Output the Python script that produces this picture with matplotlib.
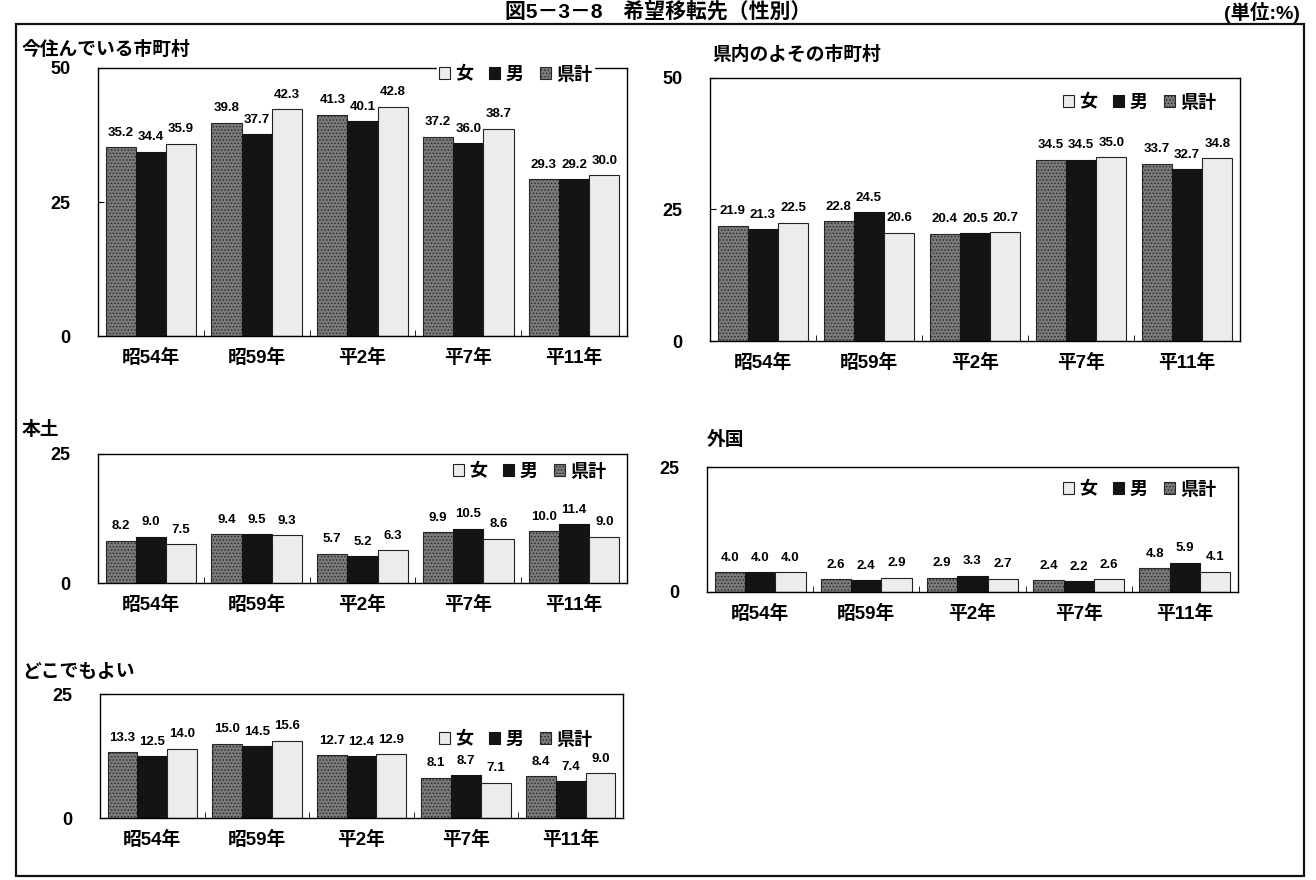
import numpy as np
import matplotlib.pyplot as plt
from matplotlib.patches import Patch, Rectangle

plt.rcParams['font.family'] = ['Liberation Sans', 'Noto Sans CJK JP', 'DejaVu Sans']
plt.rcParams['font.weight'] = 'bold'
plt.rcParams['hatch.linewidth'] = 0.6

W, H = 1316, 880

years = ['昭54年', '昭59年', '平2年', '平7年', '平11年']

# 今住んでいる市町村
ima_kenkei = [35.2, 39.8, 41.3, 37.2, 29.3]
ima_otoko = [34.4, 37.7, 40.1, 36.0, 29.2]
ima_onna = [35.9, 42.3, 42.8, 38.7, 30.0]

# 県内のよその市町村
yoso_kenkei = [21.9, 22.8, 20.4, 34.5, 33.7]
yoso_otoko = [21.3, 24.5, 20.5, 34.5, 32.7]
yoso_onna = [22.5, 20.6, 20.7, 35.0, 34.8]

# 本土
hondo_kenkei = [8.2, 9.4, 5.7, 9.9, 10.0]
hondo_otoko = [9.0, 9.5, 5.2, 10.5, 11.4]
hondo_onna = [7.5, 9.3, 6.3, 8.6, 9.0]

# 外国
gaikoku_kenkei = [4.0, 2.6, 2.9, 2.4, 4.8]
gaikoku_otoko = [4.0, 2.4, 3.3, 2.2, 5.9]
gaikoku_onna = [4.0, 2.9, 2.7, 2.6, 4.1]

# どこでもよい
doko_kenkei = [13.3, 15.0, 12.7, 8.1, 8.4]
doko_otoko = [12.5, 14.5, 12.4, 8.7, 7.4]
doko_onna = [14.0, 15.6, 12.9, 7.1, 9.0]

fig = plt.figure(figsize=(W / 100, H / 100), dpi=100)


def px_rect(x0, y0, x1, y1):
    return [x0 / W, 1 - y1 / H, (x1 - x0) / W, (y1 - y0) / H]


def fx(x):
    return x / W


def fy(y):
    return 1 - y / H


def panel(rect, title, title_xy, kenkei, otoko, onna, ymax, legend_xy):
    ax = fig.add_axes(px_rect(*rect))
    x = np.arange(len(years))
    w = 0.285
    b1 = ax.bar(x - w, kenkei, w, facecolor='#7a7a7a', edgecolor='#262626',
                hatch='.....', lw=0.8)
    b2 = ax.bar(x, otoko, w, facecolor='#141414', edgecolor='#141414', lw=0.8)
    b3 = ax.bar(x + w, onna, w, facecolor='#ececec', edgecolor='#222222', lw=0.8)
    for bars in (b1, b2, b3):
        for r in bars:
            ax.annotate('%.1f' % r.get_height(),
                        (r.get_x() + r.get_width() / 2, r.get_height()),
                        xytext=(0, 6), textcoords='offset points',
                        ha='center', va='bottom', fontsize=9.5,
                        fontweight='bold')
    ax.set_xlim(-0.5, 4.5)
    ax.set_ylim(0, ymax)
    ax.set_yticks(np.arange(0, ymax + 1, 25))
    ax.set_xticks(x)
    ax.set_xticklabels(years, fontsize=13.5, fontweight='bold')
    ax.set_xticks(x[:-1] + 0.5, minor=True)
    ax.tick_params(axis='x', which='major', length=0, pad=9)
    ax.tick_params(axis='x', which='minor', length=4, direction='in')
    ax.tick_params(axis='y', length=4, direction='in', pad=20, labelsize=13)
    for s in ax.spines.values():
        s.set_linewidth(1.0)
    fig.text(fx(title_xy[0]), fy(title_xy[1]), title, fontsize=13.5,
             fontweight='bold', va='center', ha='left')
    handles = [Patch(facecolor='#ececec', edgecolor='#222222', lw=0.8),
               Patch(facecolor='#141414', edgecolor='#141414', lw=0.8),
               Patch(facecolor='#7a7a7a', edgecolor='#262626', hatch='.....', lw=0.8)]
    ax.legend(handles, ['女', '男', '県計'], ncol=3, loc='center left',
              bbox_to_anchor=(fx(legend_xy[0]), fy(legend_xy[1])),
              bbox_transform=fig.transFigure, frameon=True,
              fancybox=False, edgecolor='white', framealpha=1,
              handlelength=0.6, handleheight=0.6, handletextpad=0.3,
              columnspacing=0.9, borderpad=0.1,
              prop={'size': 13, 'weight': 'bold'})
    return ax


panel((98, 68, 627, 336), '今住んでいる市町村', (22, 50),
      ima_kenkei, ima_otoko, ima_onna, 50, (428, 75))
panel((710, 78, 1240, 341), '県内のよその市町村', (712, 55),
      yoso_kenkei, yoso_otoko, yoso_onna, 50, (1052, 103))
panel((98, 454, 627, 583), '本土', (22, 430),
      hondo_kenkei, hondo_otoko, hondo_onna, 25, (442, 472))
panel((707, 467, 1238, 592), '外国', (707, 440),
      gaikoku_kenkei, gaikoku_otoko, gaikoku_onna, 25, (1052, 490))
panel((100, 694, 623, 818), 'どこでもよい', (22, 672),
      doko_kenkei, doko_otoko, doko_onna, 25, (428, 740))

# outer frame and heading
fig.patches.append(Rectangle((fx(16), fy(876)), fx(1304) - fx(16), fy(24) - fy(876),
                             transform=fig.transFigure, fill=False, lw=1.6,
                             edgecolor='#111111'))
fig.text(0.5, fy(11), '図5－3－8　希望移転先（性別）', fontsize=15,
         fontweight='bold', ha='center', va='center')
fig.text(fx(1300), fy(12), '(単位:%)', fontsize=14, fontweight='bold',
         ha='right', va='center')

plt.savefig('out.png', dpi=100)
